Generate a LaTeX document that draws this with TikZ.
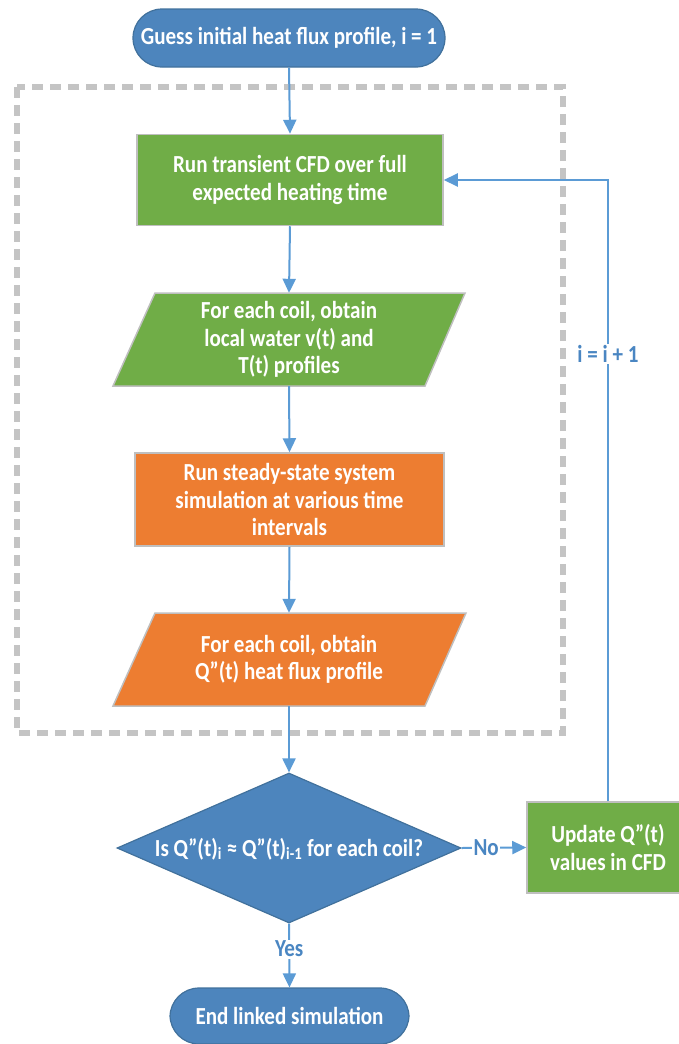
\documentclass[tikz,border=0pt]{standalone}
\usepackage{fontspec}
\setmainfont[FakeStretch=0.86]{Carlito}
\usetikzlibrary{shapes.geometric,arrows.meta}
\definecolor{termblue}{HTML}{4D85BD}
\definecolor{termedge}{HTML}{41719C}
\definecolor{boxgreen}{HTML}{70AD47}
\definecolor{boxorange}{HTML}{ED7D31}
\definecolor{boxedge}{HTML}{BFBFBF}
\definecolor{arrowblue}{HTML}{5B9BD5}
\definecolor{labelblue}{HTML}{4A86C2}
\definecolor{dashgray}{HTML}{C4C4C4}
\tikzset{
  x=1pt, y=-1pt,
  txt/.style={font=\fontsize{24.5}{27.5}\selectfont\bfseries, text=white, align=center, inner sep=0pt},
  term/.style={txt, draw=termedge, line width=1.2pt, fill=termblue, rounded corners=29pt, minimum height=58pt},
  procbox/.style={txt, draw=boxedge, line width=1.5pt, minimum width=306pt, minimum height=91pt},
  flow/.style={draw=arrowblue, line width=2pt, -{Triangle[length=14pt,width=13pt]}},
  lbl/.style={font=\fontsize{24.5}{26}\selectfont\bfseries, text=labelblue, fill=white, inner sep=1.5pt},
  paraedge/.style={draw=boxedge, line width=1.5pt},
}
\begin{document}
\begin{tikzpicture}
\useasboundingbox (0,0) rectangle (678,1044);
% dashed frame
\draw[dashgray, line width=6pt, dash pattern=on 11pt off 7pt] (17,87) rectangle (563,733);
% start
\node[term, minimum width=312pt] (start) at (289,38) {Guess initial heat flux profile, i = 1};
% CFD box
\node[procbox, fill=boxgreen] (cfd) at (290,180) {Run transient CFD over full\\expected heating time};
% parallelogram 1
\filldraw[paraedge, fill=boxgreen] (155,293) -- (465,293) -- (425,386) -- (113,386) -- cycle;
\node[txt, minimum width=310pt, minimum height=93pt] (p1) at (289,339.5) {For each coil, obtain\\local water v(t) and\\T(t) profiles};
% orange box
\node[procbox, fill=boxorange, minimum width=309pt, minimum height=93pt] (sys) at (289.5,499.5) {Run steady-state system\\simulation at various time\\intervals};
% parallelogram 2
\filldraw[paraedge, fill=boxorange] (155,613) -- (466,613) -- (425,706) -- (113,706) -- cycle;
\node[txt, minimum width=310pt, minimum height=93pt] (p2) at (289,659.5) {For each coil, obtain\\Q”(t) heat flux profile};
% decision
\node[diamond, draw=termedge, line width=1.2pt, fill=termblue, minimum width=344pt, minimum height=150pt, inner sep=0pt] (dec) at (289,848) {};
\node[txt] (dectext) at (289,849) {Is Q”(t)\textsubscript{i} ≈ Q”(t)\textsubscript{i-1} for each coil?};
% update box
\node[procbox, fill=boxgreen, minimum width=162pt, minimum height=91pt] (upd) at (608,847.5) {Update Q”(t)\\values in CFD};
% end
\node[term, minimum width=239pt, minimum height=56pt] (stop) at (289.5,1016) {End linked simulation};
% connectors
\draw[flow] (start.south) -- (cfd.north);
\draw[flow] (cfd.south) -- (p1.north);
\draw[flow] (p1.south) -- (sys.north);
\draw[flow] (sys.south) -- (p2.north);
\draw[flow] (p2.south) -- (dec.north);
\draw[flow] (dec.east) -- node[lbl, pos=0.38] (nolbl) {No} (upd.west);
\draw[flow] (dec.south) -- node[lbl, pos=0.4] (yeslbl) {Yes} (stop.north);
\coordinate (corner) at (upd.north |- cfd.east);
\draw[flow] (upd.north) -- node[lbl, pos=0.72] (inc) {i = i + 1} (corner) -- (cfd.east);
\end{tikzpicture}
\end{document}
